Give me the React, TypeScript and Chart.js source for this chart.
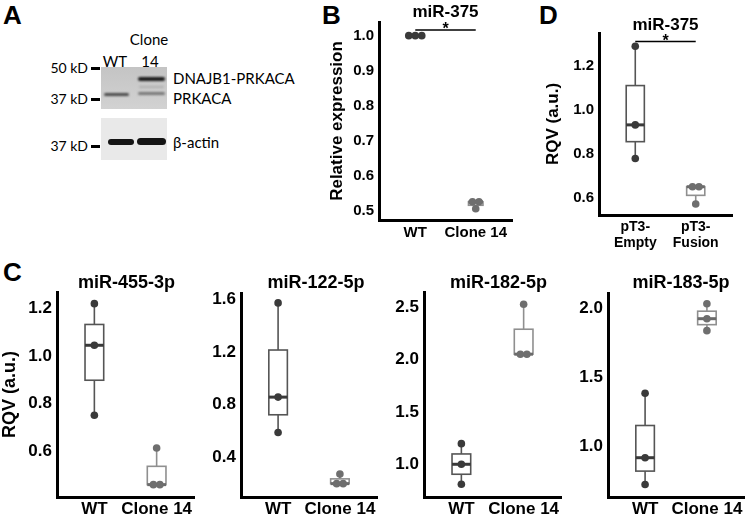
import React, { useEffect, useRef } from "react";
import { Chart, registerables } from "chart.js";

Chart.register(...registerables);

const FONT = "'Liberation Sans', Arial, Helvetica, sans-serif";
const BLOT_FONT = "Lato, 'Open Sans', 'Liberation Sans', sans-serif";

// ---------- Panel B: miR-375 relative expression ----------
const bCategories = ["WT", "Clone 14"];
const bWT = [1.0, 1.0, 1.0];
const bClone = [0.526, 0.526, 0.506];
const bYTicks = [0.5, 0.6, 0.7, 0.8, 0.9, 1.0];
const bSignificance = 1.016;

// ---------- Panel D: miR-375 RQV ----------
const dCategories = [["pT3-", "Empty"], ["pT3-", "Fusion"]];
const dEmpty = [1.288, 0.932, 0.78];
const dFusion = [0.652, 0.652, 0.574];
const dYTicks = [0.6, 0.8, 1.0, 1.2];
const dSignificance = 1.309;

// ---------- Panel C ----------
const cCategories = ["WT", "Clone 14"];
const c455WT = [1.221, 1.046, 0.752];
const c455Clone = [0.46, 0.46, 0.614];
const c455Ticks = [0.6, 0.8, 1.0, 1.2];

const c122WT = [1.57, 0.858, 0.591];
const c122Clone = [0.204, 0.204, 0.276];
const c122Ticks = [0.4, 0.8, 1.2, 1.6];

const c182WT = [1.197, 1.0, 0.81];
const c182Clone = [2.05, 2.05, 2.526];
const c182Ticks = [1.0, 1.5, 2.0, 2.5];

const c183WT = [1.384, 0.915, 0.72];
const c183Clone = [2.036, 1.927, 1.84];
const c183Ticks = [1.0, 1.5, 2.0];

// styles
const DARK = { point: "#3a3a3a", box: "#555555", median: "#3a3a3a" };
const LIGHT = { point: "#6e6e6e", box: "#8f8f8f", median: "#6a6a6a" };

const ML = 56, MT = 34, MR = 8, MB = 50;

type Group = { values: number[]; style: { point: string; box: string; median: string } };
type PanelCfg = {
  rect: { l: number; t: number; r: number; b: number };
  yMin: number; yMax: number; yTicks: number[];
  cats: (string | string[])[];
  groups: Group[];
  title: string; titleSize: number; titleDx: number; titleDy: number;
  yTitle?: string; yTitleSize?: number; yTitleDx?: number;
  tickSize: number; xTickSize: number; xLineHeight?: number; xPad: number;
  boxWidth: number;
  sig?: number;
};

function quant(sorted: number[], p: number) {
  const n = sorted.length;
  const h = (n - 1) * p;
  const lo = Math.floor(h);
  const hi = Math.min(lo + 1, n - 1);
  return sorted[lo] + (h - lo) * (sorted[hi] - sorted[lo]);
}

function makePlugin(cfg: PanelCfg) {
  return {
    id: "panelExtras",
    afterDatasetsUpdate(chart: any) {
      chart.data.datasets.forEach((_: any, di: number) => {
        const pts = chart.getDatasetMeta(di).data;
        const used = new Array(pts.length).fill(false);
        for (let i = 0; i < pts.length; i++) {
          if (used[i]) continue;
          const grp = [i];
          used[i] = true;
          for (let j = i + 1; j < pts.length; j++) {
            if (!used[j] && Math.abs(pts[j].y - pts[i].y) < 1.5) {
              grp.push(j);
              used[j] = true;
            }
          }
          grp.forEach((idx, k) => {
            pts[idx].x += (k - (grp.length - 1) / 2) * 6.5;
          });
        }
      });
    },
    beforeDatasetsDraw(chart: any) {
      const ctx = chart.ctx;
      const xs = chart.scales.x, ys = chart.scales.y;
      cfg.groups.forEach((g, gi) => {
        const s = [...g.values].sort((a, b) => a - b);
        const mn = s[0], mx = s[s.length - 1];
        const q1 = quant(s, 0.25), md = quant(s, 0.5), q3 = quant(s, 0.75);
        const cx = xs.getPixelForValue(gi + 1);
        const hw = (xs.getPixelForValue(gi + 1 + cfg.boxWidth / 2) - xs.getPixelForValue(gi + 1 - cfg.boxWidth / 2)) / 2;
        ctx.save();
        ctx.strokeStyle = g.style.box;
        ctx.lineWidth = 1.6;
        ctx.beginPath();
        ctx.moveTo(cx, ys.getPixelForValue(q3));
        ctx.lineTo(cx, ys.getPixelForValue(mx));
        ctx.moveTo(cx, ys.getPixelForValue(q1));
        ctx.lineTo(cx, ys.getPixelForValue(mn));
        ctx.stroke();
        const yTop = ys.getPixelForValue(q3), yBot = ys.getPixelForValue(q1);
        ctx.fillStyle = "#ffffff";
        ctx.fillRect(cx - hw, yTop, hw * 2, yBot - yTop);
        ctx.strokeRect(cx - hw, yTop, hw * 2, yBot - yTop);
        ctx.strokeStyle = g.style.median;
        ctx.lineWidth = 3;
        ctx.beginPath();
        ctx.moveTo(cx - hw, ys.getPixelForValue(md));
        ctx.lineTo(cx + hw, ys.getPixelForValue(md));
        ctx.stroke();
        ctx.restore();
      });
    },
    afterDraw(chart: any) {
      const ctx = chart.ctx;
      const ca = chart.chartArea;
      const xs = chart.scales.x, ys = chart.scales.y;
      ctx.save();
      ctx.fillStyle = "#000";
      ctx.textAlign = "center";
      ctx.textBaseline = "middle";
      ctx.font = `bold ${cfg.titleSize}px ${FONT}`;
      ctx.fillText(cfg.title, (ca.left + ca.right) / 2 + cfg.titleDx, ca.top + cfg.titleDy);
      if (cfg.yTitle) {
        ctx.save();
        ctx.translate(ca.left + (cfg.yTitleDx || 0), (ca.top + ca.bottom) / 2);
        ctx.rotate(-Math.PI / 2);
        ctx.font = `bold ${cfg.yTitleSize}px ${FONT}`;
        ctx.fillText(cfg.yTitle, 0, 0);
        ctx.restore();
      }
      if (cfg.sig !== undefined) {
        const y = ys.getPixelForValue(cfg.sig);
        const x1 = xs.getPixelForValue(1), x2 = xs.getPixelForValue(2);
        ctx.strokeStyle = "#000";
        ctx.lineWidth = 1.5;
        ctx.beginPath();
        ctx.moveTo(x1, y);
        ctx.lineTo(x2, y);
        ctx.stroke();
        ctx.font = `bold 16px ${FONT}`;
        ctx.textBaseline = "alphabetic";
        ctx.fillText("*", (x1 + x2) / 2, y + 4);
      }
      ctx.restore();
    },
  };
}

function BoxPanel({ cfg }: { cfg: PanelCfg }) {
  const ref = useRef<HTMLCanvasElement>(null);
  const { rect } = cfg;
  const left = rect.l - ML, top = rect.t - MT;
  const w = rect.r - rect.l + ML + MR;
  const h = rect.b - rect.t + MT + MB;
  useEffect(() => {
    const chart = new Chart(ref.current as HTMLCanvasElement, {
      type: "scatter",
      data: {
        datasets: cfg.groups.map((g, gi) => ({
          data: g.values.map((v) => ({ x: gi + 1, y: v })),
          pointRadius: 3.8,
          pointHoverRadius: 3.8,
          pointBackgroundColor: g.style.point,
          pointBorderColor: g.style.point,
          pointBorderWidth: 0,
          clip: false as any,
        })),
      },
      options: {
        animation: false,
        responsive: false,
        devicePixelRatio: 1,
        events: [],
        layout: { padding: { left: 0, top: MT, right: MR, bottom: 0 } },
        plugins: { legend: { display: false }, tooltip: { enabled: false }, title: { display: false } },
        scales: {
          x: {
            type: "linear",
            min: 0.4,
            max: 2.6,
            afterBuildTicks: (s: any) => {
              s.ticks = cfg.cats.map((_, i) => ({ value: i + 1 }));
            },
            afterFit: (s: any) => {
              s.height = MB;
            },
            ticks: {
              callback: (v: any) => cfg.cats[Math.round(Number(v)) - 1] as any,
              autoSkip: false,
              maxRotation: 0,
              padding: cfg.xPad,
              color: "#000",
              font: { family: FONT, size: cfg.xTickSize, weight: "bold", lineHeight: cfg.xLineHeight || 1.2 },
            },
            grid: { display: false, drawTicks: false },
            border: { display: true, color: "#000", width: 3 },
          },
          y: {
            type: "linear",
            min: cfg.yMin,
            max: cfg.yMax,
            afterBuildTicks: (s: any) => {
              s.ticks = cfg.yTicks.map((v) => ({ value: v }));
            },
            afterFit: (s: any) => {
              s.width = ML;
            },
            ticks: {
              callback: (v: any) => Number(v).toFixed(1),
              autoSkip: false,
              padding: 5,
              color: "#000",
              font: { family: FONT, size: cfg.tickSize, weight: "bold" },
            },
            grid: { display: false, drawTicks: false },
            border: { display: true, color: "#000", width: 3 },
          },
        },
      } as any,
      plugins: [makePlugin(cfg)],
    });
    return () => chart.destroy();
  }, []);
  return (
    <canvas
      ref={ref}
      width={w}
      height={h}
      style={{ position: "absolute", left, top, width: w, height: h, display: "block" }}
    />
  );
}

const panels: PanelCfg[] = [
  {
    rect: { l: 379, t: 22, r: 512, b: 220 },
    yMin: 0.474, yMax: 1.039, yTicks: bYTicks, cats: bCategories,
    groups: [{ values: bWT, style: DARK }, { values: bClone, style: LIGHT }],
    title: "miR-375", titleSize: 17, titleDx: 0, titleDy: -10,
    yTitle: "Relative expression", yTitleSize: 17, yTitleDx: -42,
    tickSize: 15, xTickSize: 15, xPad: 4, boxWidth: 0.24, sig: bSignificance,
  },
  {
    rect: { l: 599, t: 33, r: 732, b: 215 },
    yMin: 0.524, yMax: 1.348, yTicks: dYTicks, cats: dCategories,
    groups: [{ values: dEmpty, style: DARK }, { values: dFusion, style: LIGHT }],
    title: "miR-375", titleSize: 17, titleDx: 0, titleDy: -8,
    yTitle: "RQV (a.u.)", yTitleSize: 17, yTitleDx: -46,
    tickSize: 15, xTickSize: 14, xLineHeight: 1.15, xPad: 4, boxWidth: 0.3, sig: dSignificance,
  },
  {
    rect: { l: 57, t: 292, r: 194, b: 497 },
    yMin: 0.408, yMax: 1.27, yTicks: c455Ticks, cats: cCategories,
    groups: [{ values: c455WT, style: DARK }, { values: c455Clone, style: LIGHT }],
    title: "miR-455-3p", titleSize: 18, titleDx: 1, titleDy: -9,
    yTitle: "RQV (a.u.)", yTitleSize: 18, yTitleDx: -47,
    tickSize: 17, xTickSize: 17, xPad: 2, boxWidth: 0.3,
  },
  {
    rect: { l: 241, t: 293, r: 377, b: 497 },
    yMin: 0.103, yMax: 1.645, yTicks: c122Ticks, cats: cCategories,
    groups: [{ values: c122WT, style: DARK }, { values: c122Clone, style: LIGHT }],
    title: "miR-122-5p", titleSize: 18, titleDx: 7, titleDy: -10,
    tickSize: 17, xTickSize: 17, xPad: 2, boxWidth: 0.3,
  },
  {
    rect: { l: 424, t: 292, r: 561, b: 497 },
    yMin: 0.688, yMax: 2.643, yTicks: c182Ticks, cats: cCategories,
    groups: [{ values: c182WT, style: DARK }, { values: c182Clone, style: LIGHT }],
    title: "miR-182-5p", titleSize: 18, titleDx: 6, titleDy: -9,
    tickSize: 17, xTickSize: 17, xPad: 2, boxWidth: 0.3,
  },
  {
    rect: { l: 608, t: 293, r: 744, b: 497 },
    yMin: 0.629, yMax: 2.114, yTicks: c183Ticks, cats: cCategories,
    groups: [{ values: c183WT, style: DARK }, { values: c183Clone, style: LIGHT }],
    title: "miR-183-5p", titleSize: 18, titleDx: 5, titleDy: -10,
    tickSize: 17, xTickSize: 17, xPad: 2, boxWidth: 0.3,
  },
];

function Txt({ x, y, size, children, align = "left", bold = false, family = BLOT_FONT }: any) {
  const style: React.CSSProperties = {
    position: "absolute",
    top: y - size / 2,
    fontSize: size,
    lineHeight: `${size}px`,
    fontFamily: family,
    fontWeight: bold ? 700 : 400,
    whiteSpace: "nowrap",
    color: "#000",
  };
  if (align === "left") style.left = x;
  else if (align === "right") style.right = 747 - x;
  else {
    style.left = x;
    style.transform = "translateX(-50%)";
  }
  return <div style={style}>{children}</div>;
}

function Band({ l, t, w, h, c, blur = 0.8 }: any) {
  return (
    <div
      style={{
        position: "absolute", left: l, top: t, width: w, height: h, background: c,
        borderRadius: h / 2, filter: `blur(${blur}px)`,
      }}
    />
  );
}

function Blot() {
  return (
    <>
      <Txt x={149} y={39} size={15} align="center">Clone</Txt>
      <Txt x={115} y={61} size={15} align="center">WT</Txt>
      <Txt x={150} y={61} size={15} align="center">14</Txt>
      <div style={{ position: "absolute", left: 101, top: 67, width: 66, height: 42,
        background: "linear-gradient(#c4c4c4, #d2d2d2)" }} />
      <Band l={138} t={77} w={27} h={4} c="#1c1c1c" />
      <Band l={139} t={86} w={25} h={2} c="#b0b0b0" />
      <Band l={104} t={93} w={25} h={3} c="#4a4a4a" />
      <Band l={138} t={92} w={27} h={3} c="#777" />
      <div style={{ position: "absolute", left: 101, top: 118, width: 66, height: 42, background: "#e9e9e9" }} />
      <Band l={108} t={139} w={26} h={6} c="#151515" blur={0.7} />
      <Band l={137} t={138} w={29} h={7} c="#151515" blur={0.7} />
      {[68, 99, 146].map((y) => (
        <div key={y} style={{ position: "absolute", left: 91, top: y - 1, width: 9, height: 3, background: "#000" }} />
      ))}
      <Txt x={88} y={68} size={14} align="right">50 kD</Txt>
      <Txt x={88} y={99} size={14} align="right">37 kD</Txt>
      <Txt x={88} y={146} size={14} align="right">37 kD</Txt>
      <Txt x={173} y={78} size={15}>DNAJB1-PRKACA</Txt>
      <Txt x={173} y={98} size={15}>PRKACA</Txt>
      <Txt x={173} y={142} size={15}>β-actin</Txt>
    </>
  );
}

export default function App() {
  const letter = (t: string, x: number, y: number) => (
    <div style={{ position: "absolute", left: x, top: y, fontFamily: FONT, fontWeight: 700, fontSize: 26, lineHeight: "26px" }}>{t}</div>
  );
  return (
    <div style={{ position: "fixed", left: 0, top: 0, width: 747, height: 514, background: "#fff", overflow: "hidden" }}>
      {letter("A", 3, 2)}
      {letter("B", 322, 2)}
      {letter("D", 539, 2)}
      {letter("C", 3, 259)}
      <Blot />
      {panels.map((p, i) => (
        <BoxPanel key={i} cfg={p} />
      ))}
    </div>
  );
}
